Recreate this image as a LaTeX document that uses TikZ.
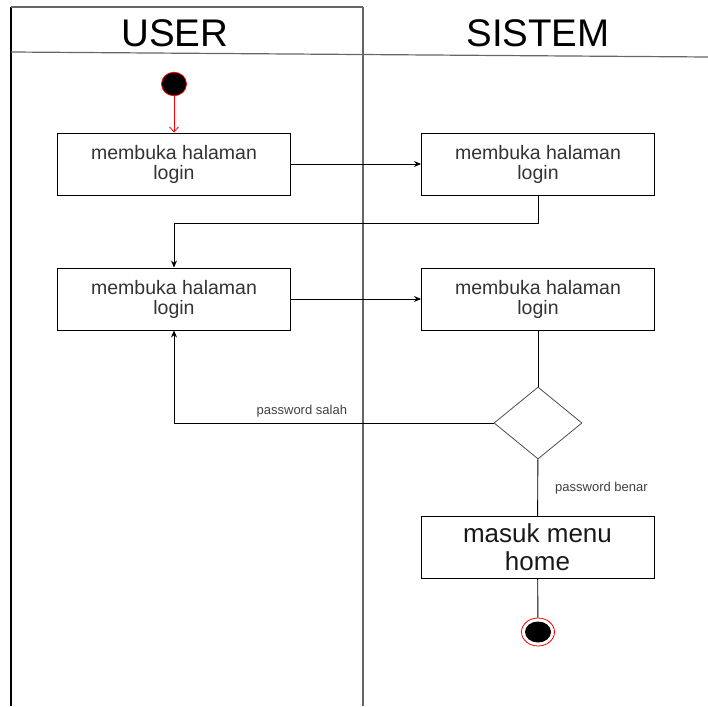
\documentclass[tikz,border=0pt]{standalone}
\usepackage{fontspec}
\setmainfont{Liberation Sans}
\usetikzlibrary{arrows.meta, shapes.geometric, positioning}

\begin{document}
\begin{tikzpicture}[
			x=1pt, y=-1pt,
			act/.style={
					draw,
					line width=1pt,
					minimum width=233pt,
					minimum height=62pt,
					align=center,
					text=black!80,
					font=\fontsize{19.5}{20}\selectfont % text inside the boxes
				},
			lane/.style={draw=black!60, line width=1.2pt},
			lbl/.style={text=black!75, inner sep=0pt, font=\fontsize{13}{14}\selectfont},
			conn/.style={-{Stealth[length=7pt, width=6pt]}, line width=0.9pt},
		]
		\useasboundingbox (0, 0) rectangle (708, 706);

		% swimlanes
		\draw[lane, draw=black] (11, 7) -- (11, 706);
		\draw[lane] (11, 7) -- (363, 7);
		\draw[lane] (363, 7) -- (363, 706);
		\draw[lane] (11, 52) -- (708, 57);
		\node[anchor=base, font=\fontsize{38.5}{40}\selectfont] (user) at (175, 47) {USER};
		\node[anchor=base, font=\fontsize{38.5}{40}\selectfont] (sistem) at (538, 47) {SISTEM};

		\node[ellipse, fill=black, draw=red, line width=0.8pt, minimum width=25pt, minimum height=23.5pt, inner sep=0pt] (start) at (174, 84) {};

		\node[act] (n1) at (174, 164) {membuka halaman\\login};
		\node[act] (n2) at (538, 164) {membuka halaman\\login};
		\node[act] (n3) at (174, 299) {membuka halaman\\login};
		\node[act] (n4) at (538, 299) {membuka halaman\\login};
		\node[
			draw,
			diamond,
			line width=0.8pt,
			draw=black!70,
			minimum width=88pt,
			minimum height=72pt,
			inner sep=0pt,
		] (cek) at (538, 423) {};
		\node[act, font=\fontsize{26}{28}\selectfont, text=black!90] (n5) at (537.5, 547.5) {masuk menu\\home};

		\node[ellipse, draw=red, line width=0.8pt, minimum width=33pt, minimum height=28pt, inner sep=0pt] (stop) at (538, 632) {};
		\node[ellipse, fill=black, minimum width=26pt, minimum height=21pt, inner sep=0pt] (stopin) at (stop) {};

		\draw[-{Straight Barb[length=5pt, width=9pt]}, red, line width=0.8pt] (start) -- (n1);
		\draw[conn] (n1) -- (n2);
		\draw[conn] (n2.south) -- ++(0, 28) -| (n3.north);
		\draw[conn] (n3) -- (n4);
		\draw[line width=0.9pt] (n4) -- (cek);
		\draw[conn] (cek.west) -| (n3.south) node[pos=0.3, above=5pt, lbl] {password salah};
		\draw[line width=0.9pt] (cek) -- (n5) node[midway, right=17pt, lbl] {password benar};
		\draw[line width=0.9pt] (n5) -- (stop);

	\end{tikzpicture}
\end{document}
